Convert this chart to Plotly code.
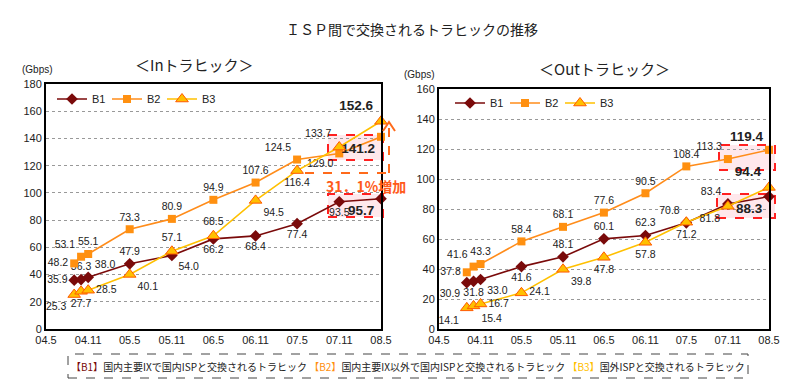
import plotly.graph_objects as go

# ---------------- data ----------------
periods = ["2004-09-01", "2004-10-01", "2004-11-01", "2005-05-01", "2005-11-01",
           "2006-05-01", "2006-11-01", "2007-05-01", "2007-11-01", "2008-05-01"]

in_b1 = [35.9, 36.3, 38.0, 47.9, 54.0, 66.2, 68.4, 77.4, 93.5, 95.7]
in_b2 = [48.2, 53.1, 55.1, 73.3, 80.9, 94.9, 107.6, 124.5, 129.0, 141.2]
in_b3 = [25.3, 27.7, 28.5, 40.1, 57.1, 68.5, 94.5, 116.4, 133.7, 152.6]

out_b1 = [30.9, 31.8, 33.0, 41.6, 48.1, 60.1, 62.3, 70.8, 83.4, 88.3]
out_b2 = [37.8, 41.6, 43.3, 58.4, 68.1, 77.6, 90.5, 108.4, 113.3, 119.4]
out_b3 = [14.1, 15.4, 16.7, 24.1, 39.8, 47.8, 57.8, 71.2, 81.8, 94.4]

series_names = ["B1", "B2", "B3"]
title_text = "ＩＳＰ間で交換されるトラヒックの推移"
in_title = "＜Inトラヒック＞"
out_title = "＜Outトラヒック＞"
unit_label = "(Gbps)"
growth_text = "31．1%増加"

# ---------------- styles ----------------
FONT = "Liberation Sans, Arial, sans-serif"
JFONT = "Noto Sans CJK JP, sans-serif"
C_B1 = "#7A0A0A"
C_B2 = "#FF9010"
C_B2_LINE = "#FF8C1A"
C_B3 = "#FFC000"
C_B3_EDGE = "#FF5A00"

in_pos = {
    "B1": ["middle left", "top center", "top right", "top center", "bottom right",
           "bottom center", "bottom center", "bottom center", "bottom center", "bottom left"],
    "B2": ["middle left", "top left", "top center", "top center", "top center",
           "top center", "top center", "top left", "bottom left", "bottom left"],
    "B3": ["bottom left", "bottom center", "middle right", "bottom right", "top center",
           "top center", "bottom right", "bottom center", "top left", "top left"],
}
out_pos = {
    "B1": ["bottom left", "bottom center", "bottom right", "bottom center", "top center",
           "top center", "top center", "top left", "top left", "bottom left"],
    "B2": ["middle left", "top left", "top center", "top center", "top center",
           "top center", "top center", "top center", "top left", "top left"],
    "B3": ["bottom left", "bottom right", "middle right", "middle right", "bottom right",
           "bottom center", "bottom center", "bottom center", "bottom left", "top left"],
}


def px(x):
    return x / 800.0


def py(y):
    return 1.0 - y / 391.0


def labels(vals):
    t = [f"{v:.1f}" for v in vals]
    t[-1] = f"<b>{t[-1]}</b>"
    return t


def sizes(vals):
    s = [10.5] * len(vals)
    s[-1] = 13.5
    return s


fig = go.Figure()

styles = {
    "B1": dict(line=dict(color=C_B1, width=1.6),
               marker=dict(symbol="diamond", size=9, color=C_B1)),
    "B2": dict(line=dict(color=C_B2_LINE, width=1.6),
               marker=dict(symbol="square", size=8, color=C_B2)),
    "B3": dict(line=dict(color=C_B3, width=1.6),
               marker=dict(symbol="triangle-up", size=11, color=C_B3,
                           line=dict(color=C_B3_EDGE, width=1))),
}

for (name, vals) in zip(series_names, [in_b1, in_b2, in_b3]):
    fig.add_trace(go.Scatter(
        x=periods, y=vals, name=name, mode="lines+markers+text",
        text=labels(vals), textposition=in_pos[name],
        textfont=dict(family=FONT, size=sizes(vals), color="#222"),
        xaxis="x", yaxis="y", legend="legend", cliponaxis=False,
        **styles[name]))

for (name, vals) in zip(series_names, [out_b1, out_b2, out_b3]):
    fig.add_trace(go.Scatter(
        x=periods, y=vals, name=name, mode="lines+markers+text",
        text=labels(vals), textposition=out_pos[name],
        textfont=dict(family=FONT, size=sizes(vals), color="#222"),
        xaxis="x2", yaxis="y2", legend="legend2", cliponaxis=False,
        **styles[name]))

xcommon = dict(type="date", range=["2004-05-01", "2008-05-01"], tick0="2004-05-01",
               dtick="M6", tickformat="%y.%-m", showgrid=False, showline=True,
               mirror=True, linecolor="black", linewidth=2, zeroline=False,
               automargin=False,
               tickfont=dict(family=FONT, size=11, color="#222"), ticks="")
ycommon = dict(dtick=20, showgrid=True, gridcolor="#999", griddash="dot", gridwidth=1,
               showline=True, mirror=True, linecolor="black", linewidth=2,
               zeroline=False, automargin=False,
               tickfont=dict(family=FONT, size=11, color="#222"), ticks="")

fig.update_layout(
    width=800, height=391,
    margin=dict(l=0, r=0, t=0, b=0, autoexpand=False),
    paper_bgcolor="white", plot_bgcolor="rgba(0,0,0,0)",
    xaxis=dict(domain=[px(46), px(381)], anchor="y", **xcommon),
    yaxis=dict(domain=[py(329), py(84)], anchor="x", range=[0, 180], **ycommon),
    xaxis2=dict(domain=[px(439), px(769)], anchor="y2", **xcommon),
    yaxis2=dict(domain=[py(329), py(89)], anchor="x2", range=[0, 160], **ycommon),
    legend=dict(orientation="h", x=px(52), y=py(99), xanchor="left", yanchor="middle",
                bgcolor="rgba(0,0,0,0)", font=dict(family=FONT, size=11, color="#222"),
                entrywidth=10, itemwidth=30, tracegroupgap=0),
    legend2=dict(orientation="h", x=px(450), y=py(103), xanchor="left", yanchor="middle",
                 bgcolor="rgba(0,0,0,0)", font=dict(family=FONT, size=11, color="#222"),
                 entrywidth=10, itemwidth=30, tracegroupgap=0),
    showlegend=True,
)

shapes = []
# red dashed highlight boxes
for (x0, x1, y0, y1) in [(328, 383, 135, 160), (328, 383, 194, 217),
                         (719, 775, 145, 170), (717, 775, 194, 218)]:
    shapes.append(dict(type="rect", xref="paper", yref="paper",
                       x0=px(x0), x1=px(x1), y0=py(y1), y1=py(y0),
                       line=dict(color="#FF2020", width=2, dash="dash"),
                       fillcolor="rgba(255,190,200,0.35)", layer="below"))
# orange dashed growth indicator
shapes.append(dict(type="line", xref="paper", yref="paper",
                   x0=px(305), x1=px(389), y0=py(173), y1=py(173),
                   line=dict(color="#FF6A1A", width=2, dash="dash")))
shapes.append(dict(type="line", xref="paper", yref="paper",
                   x0=px(389), x1=px(389), y0=py(173), y1=py(124),
                   line=dict(color="#FF6A1A", width=2, dash="dash")))
shapes.append(dict(type="path", xref="paper", yref="paper",
                   path=f"M {px(383)} {py(131)} L {px(389)} {py(122)} L {px(395)} {py(131)}",
                   line=dict(color="#FF6A1A", width=2)))
# bottom legend box
shapes.append(dict(type="rect", xref="paper", yref="paper",
                   x0=px(68), x1=px(748), y0=py(378), y1=py(354),
                   line=dict(color="#444", width=1, dash="dash")))
fig.update_layout(shapes=shapes)


def note(text, x, y, font):
    return dict(text=text, x=px(x), y=py(y), xref="paper", yref="paper",
                xanchor="center", yanchor="middle", showarrow=False, font=font)


ann = []
ann.append(note(title_text, 412, 29, dict(family=JFONT, size=14, color="#222")))
ann.append(note(in_title, 194, 65, dict(family=JFONT, size=15, color="#222")))
ann.append(note(out_title, 604, 68, dict(family=JFONT, size=15, color="#222")))
ann.append(note(unit_label, 37, 69, dict(family=FONT, size=10, color="#222")))
ann.append(note(unit_label, 419, 75, dict(family=FONT, size=10, color="#222")))
ann.append(note(f"<b>{growth_text}</b>", 366, 186, dict(family=JFONT, size=14, color="#FF5A1A")))
legend_note = (
    f"<span style='color:{C_B1}'>【B1】</span>国内主要IXで国内ISPと交換されるトラヒック "
    f"<span style='color:{C_B2}'>【B2】</span>国内主要IX以外で国内ISPと交換されるトラヒック "
    f"<span style='color:{C_B3}'>【B3】</span>国外ISPと交換されるトラヒック"
)
ann.append(note(legend_note, 408, 366, dict(family=JFONT, size=10, color="#222")))
fig.update_layout(annotations=ann)

fig.write_html("out.html", config={"displayModeBar": False},
               post_script="document.body.style.margin='0';document.body.style.padding='0';")
